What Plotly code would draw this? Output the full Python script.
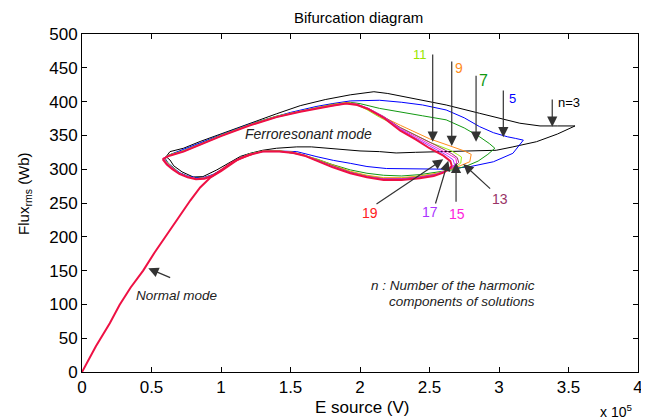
import plotly.graph_objects as go

# ---- data (E in units of 1e5 V, Flux in Wb) ----
normal_E = [0, 0.03, 0.10, 0.20, 0.27, 0.35, 0.44, 0.52, 0.61, 0.70, 0.78, 0.85, 0.92, 1.00, 1.08, 1.15, 1.22]
normal_F = [0, 12, 38, 72, 99, 125, 150, 176, 204, 230, 254, 273, 287, 299, 310, 317, 322]

E3 = [0.605, 0.633, 0.66, 0.72, 0.80, 0.87, 0.97, 1.05, 1.14, 1.21, 1.30, 1.40, 1.545, 1.65, 1.78, 1.93, 2.00, 2.14, 2.26,
      2.40, 2.62, 2.80, 2.98, 3.10, 3.27, 3.42, 3.547, 3.42, 3.295, 3.15, 3.00, 2.86, 2.62, 2.38, 2.20, 2.10, 1.93, 1.75,
      1.57, 1.40, 1.21, 1.00, 0.85, 0.73, 0.633, 0.605]
F3 = [318.5, 313.6, 305, 296, 288.5, 289, 299, 308, 319, 323.5, 328, 331, 333, 333, 331, 328, 327, 326, 324,
      325, 326, 326.5, 328, 333, 340.7, 352, 364, 364, 364, 368, 376, 382.7, 395, 405, 412, 414.6, 410, 403,
      394, 382, 368, 353, 341, 331, 326, 318.5]

E5 = [0.595, 0.62, 0.66, 0.70, 0.76, 0.82, 0.88, 0.94, 1.00, 1.06, 1.12, 1.20, 1.30, 1.40, 1.545, 1.69, 1.81, 1.93, 2.05,
      2.19, 2.35, 2.50, 2.62, 2.79, 2.96, 3.10, 3.175, 3.12, 3.06, 2.96, 2.86, 2.75, 2.62, 2.45, 2.30, 2.14, 2.00, 1.93,
      1.80, 1.69, 1.50, 1.21, 1.00, 0.85, 0.73, 0.65, 0.595]
F5 = [317, 309, 302, 295, 290, 287.5, 288, 292, 299, 307, 315.5, 322.5, 326, 327, 326, 318.5, 313, 308.7, 304,
      301, 300.5, 300, 300, 303.7, 311, 323.5, 343, 345.5, 348, 354, 363, 376, 387.6, 395, 399, 402, 402, 401,
      397, 393, 384, 367, 351, 339, 329, 323, 317]

E7 = [0.59, 0.62, 0.66, 0.70, 0.76, 0.82, 0.88, 0.94, 1.00, 1.06, 1.12, 1.20, 1.30, 1.42, 1.55, 1.69, 1.80, 1.93, 2.05,
      2.17, 2.30, 2.43, 2.55, 2.68, 2.77, 2.85, 2.92, 2.97, 2.93, 2.86, 2.75, 2.62, 2.45, 2.30, 2.14, 2.00, 1.93, 1.80,
      1.69, 1.57, 1.40, 1.21, 1.00, 0.85, 0.73, 0.63, 0.59]
F7 = [316.5, 308.5, 301.5, 294.5, 289.5, 286.5, 287.5, 291.5, 298.5, 306.5, 315, 322.5, 327, 327, 322.5, 315, 307, 299, 294,
      291, 290, 292, 296, 299.5, 305, 312, 322, 331, 338, 348, 361, 373, 379, 384, 390, 397, 399, 396,
      391.5, 386.5, 378.5, 366.5, 350.5, 337.5, 327.5, 321.5, 316.5]

E9 = [0.59, 0.62, 0.66, 0.70, 0.76, 0.82, 0.88, 0.94, 1.00, 1.06, 1.12, 1.20, 1.30, 1.42, 1.52, 1.60, 1.69, 1.80, 1.93,
      2.05, 2.17, 2.30, 2.43, 2.55, 2.64, 2.72, 2.79, 2.80, 2.75, 2.64, 2.50, 2.29, 2.14, 2.05, 1.97, 1.90, 1.80, 1.69,
      1.57, 1.40, 1.21, 1.00, 0.85, 0.73, 0.63, 0.59]
F9 = [316, 308, 301, 294, 289, 286, 287, 291, 298, 306, 315, 322, 326.5, 327, 325, 321, 314.5, 306, 297,
      291, 287.5, 287.5, 290, 294, 299, 305, 311, 322, 327, 335, 345, 365, 380, 389, 397, 398.5, 395.5, 391,
      386, 378, 366, 350, 337, 327, 321, 316]

E11 = [0.59, 0.62, 0.66, 0.70, 0.76, 0.82, 0.88, 0.94, 1.00, 1.06, 1.12, 1.20, 1.30, 1.42, 1.52, 1.60, 1.69, 1.80, 1.93,
       2.05, 2.17, 2.30, 2.43, 2.55, 2.63, 2.69, 2.725, 2.73, 2.70, 2.65, 2.50, 2.30, 2.14, 2.05, 1.97, 1.90, 1.80, 1.69,
       1.57, 1.40, 1.21, 1.00, 0.85, 0.73, 0.63, 0.59]
F11 = [316, 308, 301, 294, 289, 286, 287, 291, 298, 306, 315, 322, 326.5, 327, 325, 321, 314, 305, 296,
       290, 286.5, 286.5, 289, 293, 299, 304, 309, 318, 322, 328, 340, 360, 377, 388, 396, 398, 395, 391,
       386, 378, 366, 350, 337, 327, 321, 316]

E13 = [0.585, 0.615, 0.655, 0.70, 0.76, 0.82, 0.88, 0.94, 1.00, 1.06, 1.12, 1.20, 1.30, 1.42, 1.52, 1.60, 1.69, 1.80, 1.93,
       2.05, 2.17, 2.30, 2.43, 2.55, 2.63, 2.68, 2.71, 2.70, 2.66, 2.54, 2.40, 2.29, 2.17, 2.06, 1.98, 1.90, 1.80, 1.69,
       1.57, 1.40, 1.21, 1.00, 0.85, 0.73, 0.63, 0.585]
F13 = [316, 308, 301, 294, 289, 286, 287, 291, 298, 306, 314.5, 321.5, 326.5, 326.5, 324.5, 320.5, 313.5, 304.5, 295.5,
       289.5, 286, 286, 288.5, 292.5, 298.5, 304, 310, 317, 323, 336, 350, 361.5, 378, 390, 396, 397.5, 394.5, 390.5,
       385.5, 377.5, 365.5, 349.5, 336.5, 326.5, 320.5, 316]

E15 = [0.585, 0.615, 0.655, 0.70, 0.76, 0.82, 0.88, 0.94, 1.00, 1.06, 1.12, 1.20, 1.30, 1.42, 1.52, 1.60, 1.69, 1.80, 1.93,
       2.05, 2.17, 2.30, 2.43, 2.54, 2.62, 2.67, 2.695, 2.69, 2.64, 2.52, 2.40, 2.29, 2.17, 2.06, 1.98, 1.90, 1.80, 1.69,
       1.57, 1.40, 1.21, 1.00, 0.85, 0.73, 0.63, 0.585]
F15 = [316, 308, 301, 294, 289, 286, 287, 291, 298, 306, 314.5, 321.5, 326.5, 326.5, 324.5, 320.5, 313, 304, 295,
       289, 285.5, 285.5, 288, 292, 298, 303, 309, 316, 322, 335, 348, 360, 377.5, 390, 396, 397.5, 394.5, 390.5,
       385.5, 377.5, 365.5, 349.5, 336.5, 326.5, 320.5, 316]

E17 = [0.585, 0.615, 0.655, 0.70, 0.76, 0.82, 0.88, 0.94, 1.00, 1.06, 1.12, 1.20, 1.30, 1.42, 1.52, 1.60, 1.69, 1.80, 1.93,
       2.05, 2.17, 2.30, 2.43, 2.53, 2.61, 2.66, 2.68, 2.67, 2.62, 2.50, 2.40, 2.29, 2.17, 2.06, 1.98, 1.90, 1.80, 1.69,
       1.57, 1.40, 1.21, 1.00, 0.85, 0.73, 0.63, 0.585]
F17 = [315.5, 307.5, 300.5, 293.5, 288.5, 285.5, 286.5, 290.5, 297.5, 305.5, 314, 321, 326, 326, 324, 320, 312.5, 303.5, 294.5,
       288.5, 285, 285, 287.5, 291, 297, 302, 307, 314, 321, 334, 346, 359, 377, 389.5, 395.5, 397, 394, 390,
       385, 377, 365, 349, 336, 326, 320, 315.5]

E19 = [0.58, 0.61, 0.65, 0.70, 0.76, 0.82, 0.88, 0.94, 1.00, 1.06, 1.12, 1.20, 1.30, 1.42, 1.52, 1.60, 1.69, 1.80, 1.93,
       2.05, 2.17, 2.30, 2.43, 2.53, 2.60, 2.64, 2.66, 2.65, 2.60, 2.50, 2.40, 2.29, 2.17, 2.06, 1.98, 1.90, 1.80, 1.69,
       1.57, 1.40, 1.21, 1.00, 0.85, 0.73, 0.63, 0.58]
F19 = [315, 307, 300, 293, 288, 285, 286, 290, 297, 305, 314, 321, 326, 326, 324, 320, 312, 303, 294,
       288, 284, 284, 286.5, 290, 295, 300, 305, 312, 320, 331, 344, 357, 376, 389, 395, 397, 394, 390,
       385, 377, 365, 349, 336, 326, 320, 315]

harmonics = [3, 5, 7, 9, 11, 13, 15, 17, 19]
colors = ["#000000", "#0000ff", "#119911", "#ff8c1a", "#99ee11", "#993366", "#ff22dd", "#aa33ff", "#ee1144"]
series_E = [E3, E5, E7, E9, E11, E13, E15, E17, E19]
series_F = [F3, F5, F7, F9, F11, F13, F15, F17, F19]

FONT = "Liberation Sans, Arial, sans-serif"

fig = go.Figure()
for n, c, xs, ys in zip(harmonics, colors, series_E, series_F):
    fig.add_trace(go.Scatter(x=xs, y=ys, mode="lines", name=f"n={n}",
                             line=dict(color=c, width=2 if n == 19 else 1), showlegend=False))
fig.add_trace(go.Scatter(x=normal_E, y=normal_F, mode="lines", name="normal",
                         line=dict(color="#ee1144", width=2), showlegend=False))

ann = []
# harmonic labels
labels = [("11", 2.432, 470.4, "#99e600", 13), ("9", 2.712, 449.7, "#ff8c1a", 14),
          ("7", 2.892, 430.5, "#119911", 16), ("5", 3.094, 404.6, "#0000ff", 13),
          ("n=3", 3.504, 398.0, "#000000", 13), ("13", 3.007, 255.9, "#993366", 14),
          ("15", 2.698, 233.7, "#ff22dd", 14), ("17", 2.50, 236.0, "#aa33ff", 14),
          ("19", 2.072, 235.2, "#ff2020", 14)]
for t, x, y, c, s in labels:
    ann.append(dict(x=x, y=y, xref="x", yref="y", text=t, showarrow=False,
                    font=dict(family=FONT, size=s, color=c), xanchor="center", yanchor="middle"))

# arrows: (tip x, tip y, tail x, tail y)
arrows = [(2.523, 340.7, 2.523, 471.9), (2.660, 334.3, 2.660, 461.5), (2.835, 340.7, 2.835, 440.4),
          (3.031, 347.2, 3.031, 418.6), (3.383, 362.9, 3.383, 405.3), (2.743, 307.7, 2.947, 269.2),
          (2.691, 309.6, 2.691, 249.6), (2.635, 312.6, 2.540, 247.0), (2.599, 314.6, 2.108, 247.0),
          (0.477, 153.4, 0.645, 138.6)]
for x, y, tx, ty in arrows:
    ann.append(dict(x=x, y=y, xref="x", yref="y", ax=tx, ay=ty, axref="x", ayref="y", text="",
                    showarrow=True, arrowhead=2, arrowsize=1.7, arrowwidth=1.2, arrowcolor="#333333"))

txt = dict(showarrow=False, xanchor="center", yanchor="middle")
ann += [
    dict(x=1.633, y=352, xref="x", yref="y", text="<i>Ferroresonant mode</i>", **txt,
         font=dict(family=FONT, size=14, color="#222222")),
    dict(x=0.681, y=113.9, xref="x", yref="y", text="<i>Normal mode</i>", **txt,
         font=dict(family=FONT, size=13.5, color="#222222")),
    dict(x=3.273, y=128.7, xref="x", yref="y", text="<i>n : Number of the harmonic</i>", showarrow=False,
         xanchor="right", yanchor="middle", font=dict(family=FONT, size=13.5, color="#222222")),
    dict(x=3.273, y=104.3, xref="x", yref="y", text="<i>components of solutions</i>", showarrow=False,
         xanchor="right", yanchor="middle", font=dict(family=FONT, size=13.5, color="#222222")),
    dict(x=0.498, y=1.0488, xref="paper", yref="paper", text="Bifurcation diagram", **txt,
         font=dict(family=FONT, size=15, color="#000000")),
    dict(x=0.503, y=-0.1065, xref="paper", yref="paper", text="E source (V)", **txt,
         font=dict(family=FONT, size=17, color="#000000")),
    dict(x=0.960, y=-0.1154, xref="paper", yref="paper", text="x 10<sup>5</sup>", **txt,
         font=dict(family=FONT, size=14, color="#000000")),
    dict(x=-0.1025, y=0.527, xref="paper", yref="paper", text="Flux<sub>rms</sub> (Wb)", **txt,
         textangle=-90, font=dict(family=FONT, size=15, color="#000000")),
]

axis_common = dict(showline=True, linecolor="black", linewidth=1, mirror="allticks", ticks="inside",
                   ticklen=5, tickcolor="black", showgrid=False, zeroline=False, automargin=False,
                   tickfont=dict(family=FONT, size=17, color="black"))
# page body has an 8px margin, so the figure is 8px smaller and shifted margins compensate
fig.update_layout(
    template="none",
    width=641, height=411,
    margin=dict(l=74, r=11, t=26, b=47, autoexpand=False),
    paper_bgcolor="white", plot_bgcolor="white",
    xaxis=dict(range=[0, 4], dtick=0.5, tick0=0, **axis_common),
    yaxis=dict(range=[0, 500], dtick=50, tick0=0, **axis_common),
    annotations=ann,
    showlegend=False,
)
fig.write_html("out.html")
